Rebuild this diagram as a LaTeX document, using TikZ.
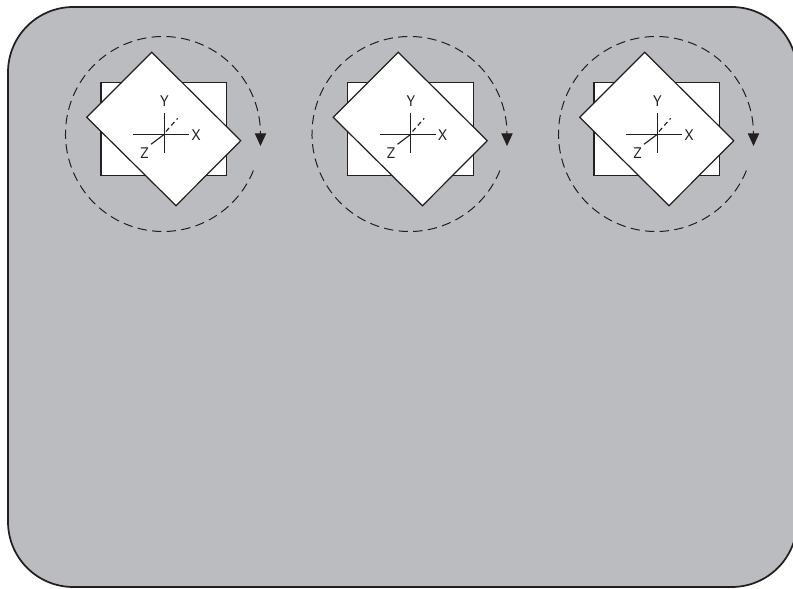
\documentclass[tikz,border=0pt]{standalone}
\usepackage{fontspec}
\setmainfont{PT Sans}
\usetikzlibrary{arrows.meta}
\definecolor{panelGray}{RGB}{187,188,192}
\definecolor{lineDark}{RGB}{35,31,32}
\tikzset{
    panel/.style={draw=lineDark, line width=1.3pt, fill=panelGray, rounded corners=49pt},
    plate/.style={draw=lineDark, line width=0.9pt, fill=white, line join=miter},
    axis/.style={draw=lineDark, line width=0.85pt},
    axislabel/.style={text=lineDark, inner sep=0pt, font=\fontsize{11.5}{11.5}\selectfont},
    swing/.style={draw=lineDark, line width=0.75pt, dash pattern=on 7pt off 4pt},
    swingtip/.style={draw=lineDark, line width=0.75pt, -{Triangle[width=8.5pt,length=9.5pt]}}
}
\begin{document}
\begin{tikzpicture}[x=0.75pt,y=0.75pt]
\useasboundingbox (0,0) rectangle (793,589);

% Parameters
\def\unitGap{246.5}   % Distance between neighbouring units
\def\unitX{163}       % Centre of the first unit
\def\unitY{455}
\def\swingRadius{97.5}

% Background panel
\draw[panel] (8,2) rectangle (797,582);

% Draw the three units
\foreach \i in {0,1,2} {
    \pgfmathsetmacro\xshift{\unitX + \i*\unitGap}
    \begin{scope}[shift={(\xshift,\unitY)}]
        % Dashed swing with its arrow
        \draw[swing] (-22:\swingRadius) arc[start angle=-22, end angle=-360, radius=\swingRadius];
        \coordinate (tipstart\i) at (\swingRadius,0);
        \coordinate (tipend\i) at (\swingRadius,-12);
        \draw[swingtip] (tipstart\i) -- (tipend\i);

        % Back plate and turned plate
        \draw[plate] (-62,-41.3) rectangle (63.7,51.3);
        \draw[plate] (-11.3,81.7) -- (77.7,-6.7) -- (13,-71.7) -- (-76.3,16.7) -- cycle;

        % Axes
        \draw[axis] (-29.7,-0.3) -- (26,-0.3);
        \draw[axis] (1.3,21.3) -- (1.3,-18.7);
        \draw[axis] (-12,-10.3) -- (1.3,-0.3);
        \draw[axis, dash pattern=on 3.5pt off 2.5pt] (3,2.5) -- (14.7,15.7);
        \node[axislabel] (labelx\i) at (33,-1) {X};
        \node[axislabel] (labely\i) at (1.5,33) {Y};
        \node[axislabel] (labelz\i) at (-18.5,-19) {Z};
    \end{scope}
}

\end{tikzpicture}
\end{document}
